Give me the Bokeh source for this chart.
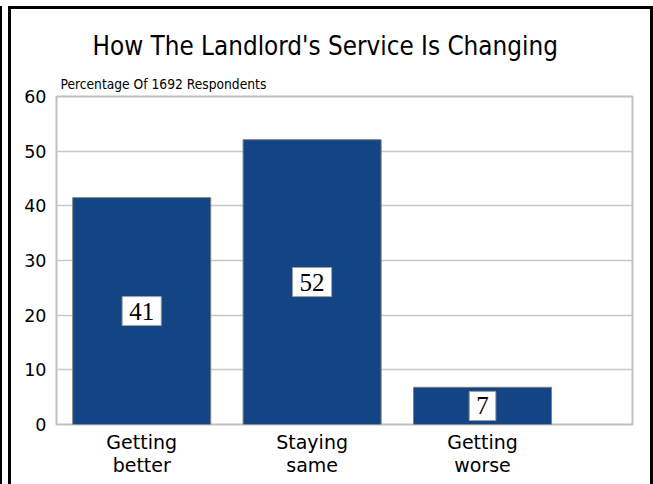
from bokeh.plotting import figure
from bokeh.models import ColumnDataSource, Range1d, Title, FixedTicker
from bokeh.core.properties import value
from bokeh.embed import file_html
from bokeh.resources import INLINE

categories = ["Getting\nbetter", "Staying\nsame", "Getting\nworse"]
values = [41.5, 52.1, 6.8]
labels = ["41", "52", "7"]
y_ticks = [0, 10, 20, 30, 40, 50, 60]

xpos = [i + 0.5 for i in range(len(categories))]
src = ColumnDataSource(dict(x=xpos, top=values, mid=[v / 2 for v in values], lab=labels))

p = figure(width=645, height=478, output_backend="svg", toolbar_location=None,
           x_range=Range1d(0, 3.38), y_range=Range1d(0, 60),
           min_border_left=45, min_border_right=24, min_border_top=87, min_border_bottom=63)
p.styles = {"border": "3px solid black", "border-bottom": "none", "box-sizing": "border-box",
            "margin-left": "8px", "margin-top": "6px",
            "box-shadow": "-6px 0 0 0 white, -8px 0 0 0 black"}
p.background_fill_color = "white"
p.border_fill_color = "white"
p.outline_line_color = "#c0c0c0"
p.outline_line_width = 2

p.vbar(x="x", top="top", width=0.81, source=src, fill_color="#134585", line_color="#7f7f7f", line_width=1)
p.text(x="x", y="mid", text="lab", source=src, text_align="center", text_baseline="middle",
       text_font=value("Liberation Serif"), text_font_size="25px", text_color="black",
       background_fill_color="white", border_line_color="#a0a0a0", border_line_width=1,
       padding=(7, 6))

p.xgrid.visible = False
p.ygrid.grid_line_color = "#c8c8c8"
p.ygrid.grid_line_width = 1.5
p.ygrid.ticker = FixedTicker(ticks=y_ticks)

p.yaxis.ticker = FixedTicker(ticks=y_ticks)
p.yaxis.axis_line_color = None
p.yaxis.major_tick_line_color = None
p.yaxis.minor_tick_line_color = None
p.yaxis.major_label_text_font = "DejaVu Sans"
p.yaxis.major_label_text_font_size = "17.5px"
p.yaxis.major_label_text_color = "black"
p.yaxis.major_label_standoff = 4

p.xaxis.ticker = FixedTicker(ticks=xpos)
p.xaxis.major_label_overrides = {x: c for x, c in zip(xpos, categories)}
p.xaxis.axis_line_color = None
p.xaxis.major_tick_line_color = None
p.xaxis.minor_tick_line_color = None
p.xaxis.major_label_text_font = "DejaVu Sans"
p.xaxis.major_label_text_font_size = "19px"
p.xaxis.major_label_text_line_height = 1.05
p.xaxis.major_label_text_color = "black"
p.xaxis.major_label_standoff = 0

p.title = None
p.add_layout(Title(text="Percentage Of 1692 Respondents", align="left", offset=4,
                   text_font="DejaVu Sans Condensed", text_font_size="13.7px",
                   text_font_style="normal", text_color="black", standoff=10), "above")
p.add_layout(Title(text="How The Landlord's Service Is Changing", align="left", offset=36,
                   text_font="DejaVu Sans Condensed", text_font_size="25.8px",
                   text_font_style="normal", text_color="black", standoff=15), "above")

open("out.html", "w").write(file_html(p, INLINE))
